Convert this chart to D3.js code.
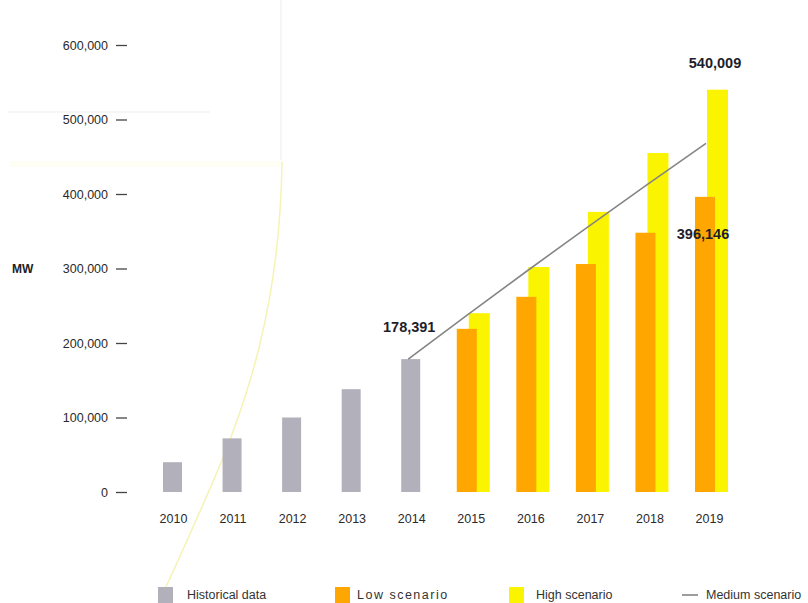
<!DOCTYPE html>
<html>
<head>
<meta charset="utf-8">
<script src="https://cdn.jsdelivr.net/npm/d3@7"></script>
<style>
  body { margin: 0; background: #fff; }
  svg text { font-family: "Liberation Sans", Arial, sans-serif; }
</style>
</head>
<body>
<div id="chart"></div>
<script>
// data (MW)
var histYears = ["2010", "2011", "2012", "2013", "2014"];
var histValues = [40000, 72000, 100000, 138000, 178391];
var projYears = ["2015", "2016", "2017", "2018", "2019"];
var lowValues = [219000, 262000, 306000, 348000, 396146];
var highValues = [240000, 302000, 376000, 455000, 540009];
var mediumYears = ["2014", "2015", "2016", "2017", "2018", "2019"];
var mediumValues = [178391, 238000, 297000, 355000, 412000, 468000];
var yTicks = [0, 100000, 200000, 300000, 400000, 500000, 600000];
var legendLabels = ["Historical data", "Low scenario", "High scenario", "Medium scenario"];

var W = 808, H = 603;
var colGray = "#b2b1bb", colOrange = "#ffa600", colYellow = "#fbf400", colLine = "#858585";

var svg = d3.select("#chart").append("svg")
    .attr("width", W).attr("height", H);

// faint scan artefacts in the background
svg.append("line").attr("x1", 281).attr("y1", 0).attr("x2", 281).attr("y2", 160)
    .attr("stroke", "#efefef").attr("stroke-width", 1.2);
svg.append("line").attr("x1", 8).attr("y1", 112).attr("x2", 210).attr("y2", 112)
    .attr("stroke", "#eeeeee").attr("stroke-width", 1.2);
svg.append("rect").attr("x", 10).attr("y", 161).attr("width", 272).attr("height", 6)
    .attr("fill", "#fefef4");
svg.append("path")
    .attr("d", "M282,162 C280,300 250,400 205,500 C185,545 170,580 158,603")
    .attr("fill", "none").attr("stroke", "#f5f3b4").attr("stroke-width", 1.5);

var allYears = histYears.concat(projYears);
var x = d3.scalePoint().domain(allYears).range([173, 709]);
var y = d3.scaleLinear().domain([0, 600000]).range([492, 45]);

// y axis
var yAxis = svg.append("g")
    .attr("transform", "translate(127,0)")
    .call(d3.axisLeft(y).tickValues(yTicks).tickSize(11).tickPadding(8)
        .tickFormat(d3.format(",")));
yAxis.select(".domain").remove();
yAxis.selectAll("line").attr("stroke", "#444").attr("stroke-width", 1.3);
yAxis.selectAll("text").attr("font-size", 12.5).attr("fill", "#2a2a2a");

// x axis
var xAxis = svg.append("g")
    .attr("transform", "translate(0,492)")
    .call(d3.axisBottom(x).tickSize(0).tickPadding(22));
xAxis.select(".domain").remove();
xAxis.selectAll("text").attr("font-size", 12.5).attr("fill", "#2a2a2a");

svg.append("text").attr("x", 12).attr("y", 273)
    .attr("font-size", 12).attr("font-weight", "bold").attr("fill", "#222")
    .text("MW");

// historical bars
svg.selectAll(".hist").data(histValues).enter().append("rect")
    .attr("class", "hist")
    .attr("x", function(d, i) { return x(histYears[i]) - 10; })
    .attr("y", function(d) { return y(d); })
    .attr("width", 19)
    .attr("height", function(d) { return y(0) - y(d); })
    .attr("fill", colGray);

// high scenario (behind) and low scenario
svg.selectAll(".high").data(highValues).enter().append("rect")
    .attr("class", "high")
    .attr("x", function(d, i) { return x(projYears[i]) - 2; })
    .attr("y", function(d) { return y(d); })
    .attr("width", 21)
    .attr("height", function(d) { return y(0) - y(d); })
    .attr("fill", colYellow);

svg.selectAll(".low").data(lowValues).enter().append("rect")
    .attr("class", "low")
    .attr("x", function(d, i) { return x(projYears[i]) - 14; })
    .attr("y", function(d) { return y(d); })
    .attr("width", 20)
    .attr("height", function(d) { return y(0) - y(d); })
    .attr("fill", colOrange);

// medium scenario line
var line = d3.line()
    .x(function(d, i) { return x(mediumYears[i]) - 3; })
    .y(function(d) { return y(d); });
svg.append("path").datum(mediumValues)
    .attr("d", line)
    .attr("fill", "none").attr("stroke", colLine).attr("stroke-width", 1.6);

// value labels
var fmt = d3.format(",");
function valueLabel(v, cx, dy) {
  svg.append("text")
    .attr("x", cx).attr("y", y(v) + dy)
    .attr("text-anchor", "middle")
    .attr("font-size", 14.5).attr("font-weight", "bold").attr("fill", "#1e1e2a")
    .text(fmt(v));
}
valueLabel(histValues[4], x("2014") - 2, -27);
valueLabel(highValues[4], x("2019") + 6, -22);
valueLabel(lowValues[4], x("2019") - 6, 42);

// legend
var legX = [158, 335, 509, 682];
var legend = svg.selectAll(".leg").data(legendLabels).enter().append("g")
    .attr("class", "leg")
    .attr("transform", function(d, i) { return "translate(" + legX[i] + ",0)"; });
legend.each(function(d, i) {
  var g = d3.select(this);
  if (i < 3) {
    g.append("rect").attr("x", 0).attr("y", 587).attr("width", 15).attr("height", 16)
      .attr("fill", [colGray, colOrange, colYellow][i]);
  } else {
    g.append("line").attr("x1", 0).attr("x2", 16).attr("y1", 595).attr("y2", 595)
      .attr("stroke", colLine).attr("stroke-width", 1.6);
  }
  g.append("text")
    .attr("x", i < 3 ? [29, 22, 27][i] : 24)
    .attr("y", 599)
    .attr("font-size", 12.5).attr("fill", "#333")
    .attr("letter-spacing", i == 1 ? 1.5 : 0)
    .text(d);
});
</script>
</body>
</html>
